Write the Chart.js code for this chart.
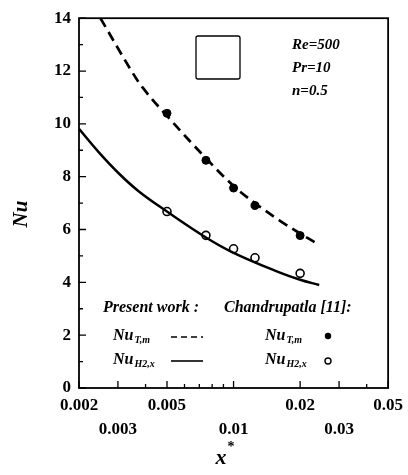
<!DOCTYPE html>
<html>
<head>
<meta charset="utf-8">
<script src="https://cdn.jsdelivr.net/npm/chart.js@4"></script>
<style>
  html, body { margin: 0; padding: 0; background: #fff; }
  canvas { display: block; }
</style>
</head>
<body>
<canvas id="c" width="408" height="475"></canvas>
<script>
// present work curves
const tmX = [0.0025, 0.0034, 0.0039, 0.005, 0.0075, 0.01, 0.0125, 0.0161, 0.02, 0.0244];
const tmY = [14.0, 12.1, 11.35, 10.3, 8.7, 7.65, 7.0, 6.35, 5.85, 5.42];
const h2X = [0.002, 0.00246, 0.00303, 0.00372, 0.005, 0.0075, 0.01, 0.0161, 0.02, 0.0244];
const h2Y = [9.81, 8.92, 8.12, 7.45, 6.68, 5.70, 5.12, 4.38, 4.10, 3.90];

// Chandrupatla [11] points
const refX = [0.005, 0.0075, 0.01, 0.0125, 0.02];
const refTmY = [10.4, 8.62, 7.57, 6.91, 5.77];
const refH2Y = [6.68, 5.78, 5.27, 4.93, 4.34];

// axis ticks
const xTicks = [0.002, 0.003, 0.004, 0.005, 0.006, 0.007, 0.008, 0.009, 0.01, 0.02, 0.03, 0.04, 0.05];
const xTopRow = [0.002, 0.005, 0.02, 0.05];
const xBottomRow = [0.003, 0.01, 0.03];
const xMajor = [0.002, 0.003, 0.005, 0.01, 0.02, 0.03, 0.05];

const pts = (xs, ys) => xs.map((x, i) => ({ x, y: ys[i] }));
const SERIF = '"Liberation Serif", "DejaVu Serif", serif';

function nuLabel(ctx, x, y, sub) {
    ctx.font = 'italic bold 16px ' + SERIF;
    ctx.textBaseline = 'middle';
    ctx.textAlign = 'left';
    ctx.fillText('Nu', x, y);
    const w = ctx.measureText('Nu').width;
    ctx.font = 'italic bold 10px ' + SERIF;
    ctx.fillText(sub, x + w + 1, y + 4);
}

const decor = {
    id: 'decor',
    afterDraw(chart) {
        const ctx = chart.ctx;
        const ca = chart.chartArea;
        const xs = chart.scales.x, ys = chart.scales.y;
        ctx.save();
        ctx.strokeStyle = '#000';
        ctx.fillStyle = '#000';

        // frame
        ctx.lineWidth = 1.8;
        ctx.strokeRect(ca.left, ca.top, ca.right - ca.left, ca.bottom - ca.top);

        // inward ticks
        ctx.lineWidth = 1.3;
        ctx.beginPath();
        for (let v = 0; v <= 14; v++) {
            const py = ys.getPixelForValue(v);
            ctx.moveTo(ca.left, py);
            ctx.lineTo(ca.left + (v % 2 === 0 ? 7 : 4), py);
        }
        xTicks.forEach(v => {
            const px = xs.getPixelForValue(v);
            ctx.moveTo(px, ca.bottom);
            ctx.lineTo(px, ca.bottom - (xMajor.includes(v) ? 7 : 4));
        });
        ctx.stroke();

        // axis titles
        ctx.textAlign = 'center';
        ctx.textBaseline = 'middle';
        ctx.font = 'italic bold 22px ' + SERIF;
        ctx.fillText('x', 221, 458);
        ctx.font = 'bold 14px ' + SERIF;
        ctx.fillText('*', 231, 447);
        ctx.save();
        ctx.translate(22, 214);
        ctx.rotate(-Math.PI / 2);
        ctx.font = 'italic bold 21px ' + SERIF;
        ctx.fillText('Nu', 0, 0);
        ctx.restore();

        // inset square and parameters
        ctx.lineWidth = 1.3;
        ctx.beginPath();
        ctx.roundRect(196, 36, 44, 43, 2);
        ctx.stroke();
        ctx.textAlign = 'left';
        ctx.font = 'italic bold 15px ' + SERIF;
        ctx.fillText('Re=500', 292, 45);
        ctx.fillText('Pr=10', 292, 68);
        ctx.fillText('n=0.5', 292, 91);

        // legend
        ctx.font = 'italic bold 16px ' + SERIF;
        ctx.fillText('Present work :', 103, 308);
        ctx.fillText('Chandrupatla [11]:', 224, 308);
        nuLabel(ctx, 113, 336, 'T,m');
        nuLabel(ctx, 113, 360, 'H2,x');
        nuLabel(ctx, 265, 336, 'T,m');
        nuLabel(ctx, 265, 360, 'H2,x');

        ctx.lineWidth = 1.6;
        ctx.setLineDash([6, 4]);
        ctx.beginPath();
        ctx.moveTo(171, 337); ctx.lineTo(203, 337);
        ctx.stroke();
        ctx.setLineDash([]);
        ctx.beginPath();
        ctx.moveTo(171, 361); ctx.lineTo(203, 361);
        ctx.stroke();

        ctx.beginPath();
        ctx.arc(328, 336, 3.2, 0, Math.PI * 2);
        ctx.fill();
        ctx.lineWidth = 1.4;
        ctx.beginPath();
        ctx.arc(328, 361, 3, 0, Math.PI * 2);
        ctx.stroke();

        ctx.restore();
    }
};

new Chart(document.getElementById('c'), {
    type: 'scatter',
    data: {
        datasets: [
            {
                label: 'NuTm present',
                data: pts(tmX, tmY),
                showLine: true,
                borderColor: '#000',
                borderWidth: 2.7,
                borderDash: [10, 6],
                pointRadius: 0,
                tension: 0.4
            },
            {
                label: 'NuH2x present',
                data: pts(h2X, h2Y),
                showLine: true,
                borderColor: '#000',
                borderWidth: 2.5,
                pointRadius: 0,
                tension: 0.4
            },
            {
                label: 'NuTm Chandrupatla',
                data: pts(refX, refTmY),
                pointRadius: 4,
                pointBackgroundColor: '#000',
                pointBorderColor: '#000',
                pointBorderWidth: 1
            },
            {
                label: 'NuH2x Chandrupatla',
                data: pts(refX, refH2Y),
                pointRadius: 4,
                pointBackgroundColor: '#fff',
                pointBorderColor: '#000',
                pointBorderWidth: 1.6
            }
        ]
    },
    options: {
        responsive: false,
        animation: false,
        layout: { padding: { top: 13, right: 19, left: 0, bottom: 0 } },
        plugins: {
            legend: { display: false },
            tooltip: { enabled: false }
        },
        scales: {
            x: {
                type: 'logarithmic',
                min: 0.002,
                max: 0.05,
                afterBuildTicks: s => { s.ticks = xTicks.map(v => ({ value: v })); },
                afterFit: s => { s.height = 87; },
                grid: { display: false, drawTicks: false },
                border: { display: false },
                ticks: {
                    autoSkip: false,
                    maxRotation: 0,
                    padding: 5,
                    color: '#000',
                    font: { family: SERIF, size: 17, weight: 'bold', lineHeight: 1.45 },
                    callback: v => {
                        if (xTopRow.includes(v)) return [String(v), ''];
                        if (xBottomRow.includes(v)) return ['', String(v)];
                        return '';
                    }
                }
            },
            y: {
                min: 0,
                max: 14,
                afterFit: s => { s.width = 79; },
                grid: { display: false, drawTicks: false },
                border: { display: false },
                ticks: {
                    stepSize: 2,
                    padding: 8,
                    color: '#000',
                    font: { family: SERIF, size: 17, weight: 'bold' }
                }
            }
        }
    },
    plugins: [decor]
});
</script>
</body>
</html>
